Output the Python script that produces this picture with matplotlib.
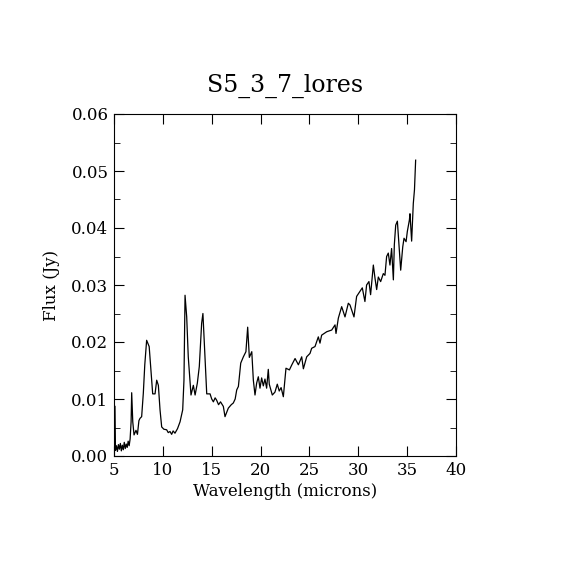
import matplotlib.pyplot as plt
from matplotlib.ticker import MultipleLocator

# spectrum
wave = [5.10, 5.15, 5.25, 5.35, 5.45, 5.55, 5.65, 5.75, 5.85, 5.95, 6.05, 6.15,
        6.25, 6.35, 6.45, 6.55, 6.65, 6.75, 6.81, 6.92, 7.05, 7.25, 7.40, 7.55,
        7.66, 7.83, 8.00, 8.15, 8.34, 8.60, 8.86, 8.96, 9.20, 9.37, 9.54, 9.71,
        9.88, 10.10, 10.39, 10.55, 10.73, 10.90, 11.05, 11.24, 11.50, 11.76,
        12.03, 12.16, 12.27, 12.44, 12.60, 12.88, 13.12, 13.30, 13.53, 13.73,
        13.97, 14.10, 14.31, 14.49, 14.83, 15.00, 15.17, 15.35, 15.50, 15.70,
        15.90, 16.19, 16.36, 16.70, 17.00, 17.21, 17.40, 17.56, 17.73, 17.97,
        18.24, 18.50, 18.68, 18.85, 19.10, 19.26, 19.43, 19.60, 19.77, 19.94,
        20.11, 20.28, 20.45, 20.62, 20.79, 20.89, 21.20, 21.47, 21.71, 21.91,
        22.10, 22.33, 22.60, 22.95, 23.20, 23.53, 23.87, 24.21, 24.38, 24.72,
        25.06, 25.23, 25.57, 25.91, 26.08, 26.25, 26.77, 27.28, 27.62, 27.72,
        27.96, 28.30, 28.64, 28.98, 29.15, 29.56, 29.83, 30.17, 30.41, 30.68,
        30.85, 31.09, 31.26, 31.54, 31.71, 31.88, 32.05, 32.29, 32.56, 32.73,
        32.90, 33.07, 33.24, 33.41, 33.59, 33.69, 33.83, 34.00, 34.34, 34.55,
        34.68, 34.89, 35.02, 35.23, 35.29, 35.46, 35.63, 35.75, 35.87]
flux = [0.0087, 0.0010, 0.0018, 0.0008, 0.0020, 0.0012, 0.0022, 0.0009, 0.0019,
        0.0011, 0.0024, 0.0013, 0.0021, 0.0015, 0.0026, 0.0018, 0.0030, 0.0060,
        0.0111, 0.0060, 0.0037, 0.0045, 0.0038, 0.0062, 0.0066, 0.0069, 0.0110,
        0.0160, 0.0203, 0.0192, 0.0133, 0.0109, 0.0109, 0.0133, 0.0124, 0.0081,
        0.0051, 0.0047, 0.0046, 0.0041, 0.0043, 0.0038, 0.0044, 0.0040, 0.0048,
        0.0060, 0.0081, 0.0133, 0.0282, 0.0244, 0.0174, 0.0107, 0.0124, 0.0107,
        0.0128, 0.0157, 0.0233, 0.0250, 0.0174, 0.0109, 0.0109, 0.0100, 0.0095,
        0.0102, 0.0098, 0.0090, 0.0095, 0.0087, 0.0069, 0.0084, 0.0090, 0.0093,
        0.0100, 0.0116, 0.0122, 0.0163, 0.0174, 0.0183, 0.0226, 0.0173, 0.0183,
        0.0133, 0.0107, 0.0128, 0.0139, 0.0119, 0.0137, 0.0123, 0.0135, 0.0119,
        0.0152, 0.0126, 0.0107, 0.0112, 0.0126, 0.0114, 0.0120, 0.0104, 0.0154,
        0.0151, 0.0160, 0.0171, 0.0160, 0.0174, 0.0153, 0.0174, 0.0180, 0.0189,
        0.0192, 0.0209, 0.0198, 0.0212, 0.0218, 0.0221, 0.0230, 0.0215, 0.0242,
        0.0262, 0.0244, 0.0268, 0.0265, 0.0244, 0.0280, 0.0289, 0.0295, 0.0271,
        0.0300, 0.0306, 0.0283, 0.0335, 0.0312, 0.0292, 0.0314, 0.0306, 0.0320,
        0.0317, 0.0350, 0.0356, 0.0335, 0.0364, 0.0309, 0.0371, 0.0405, 0.0412,
        0.0326, 0.0367, 0.0382, 0.0376, 0.0394, 0.0414, 0.0425, 0.0377, 0.0443,
        0.0467, 0.0519]

plt.rcParams['font.family'] = 'DejaVu Serif'

fig = plt.figure(figsize=(5.7, 5.7), dpi=100)
ax = fig.add_axes([0.2, 0.2, 0.6, 0.6])
ax.plot(wave, flux, color='black', linewidth=0.9)

ax.set_xlim(5, 40)
ax.set_ylim(0, 0.06)
ax.xaxis.set_major_locator(MultipleLocator(5))
ax.yaxis.set_major_locator(MultipleLocator(0.01))
ax.yaxis.set_minor_locator(MultipleLocator(0.005))
ax.yaxis.set_major_formatter(plt.FormatStrFormatter('%.2f'))
ax.tick_params(direction='in', top=True, right=True, which='both', labelsize=12)
ax.tick_params(which='major', length=7, pad=4)
ax.tick_params(which='minor', length=4)

ax.set_xlabel('Wavelength (microns)', fontsize=12, labelpad=3)
ax.set_ylabel('Flux (Jy)', fontsize=12, labelpad=8)
ax.set_title('S5_3_7_lores', fontsize=17, pad=16)

fig.savefig('out.png', dpi=100)
